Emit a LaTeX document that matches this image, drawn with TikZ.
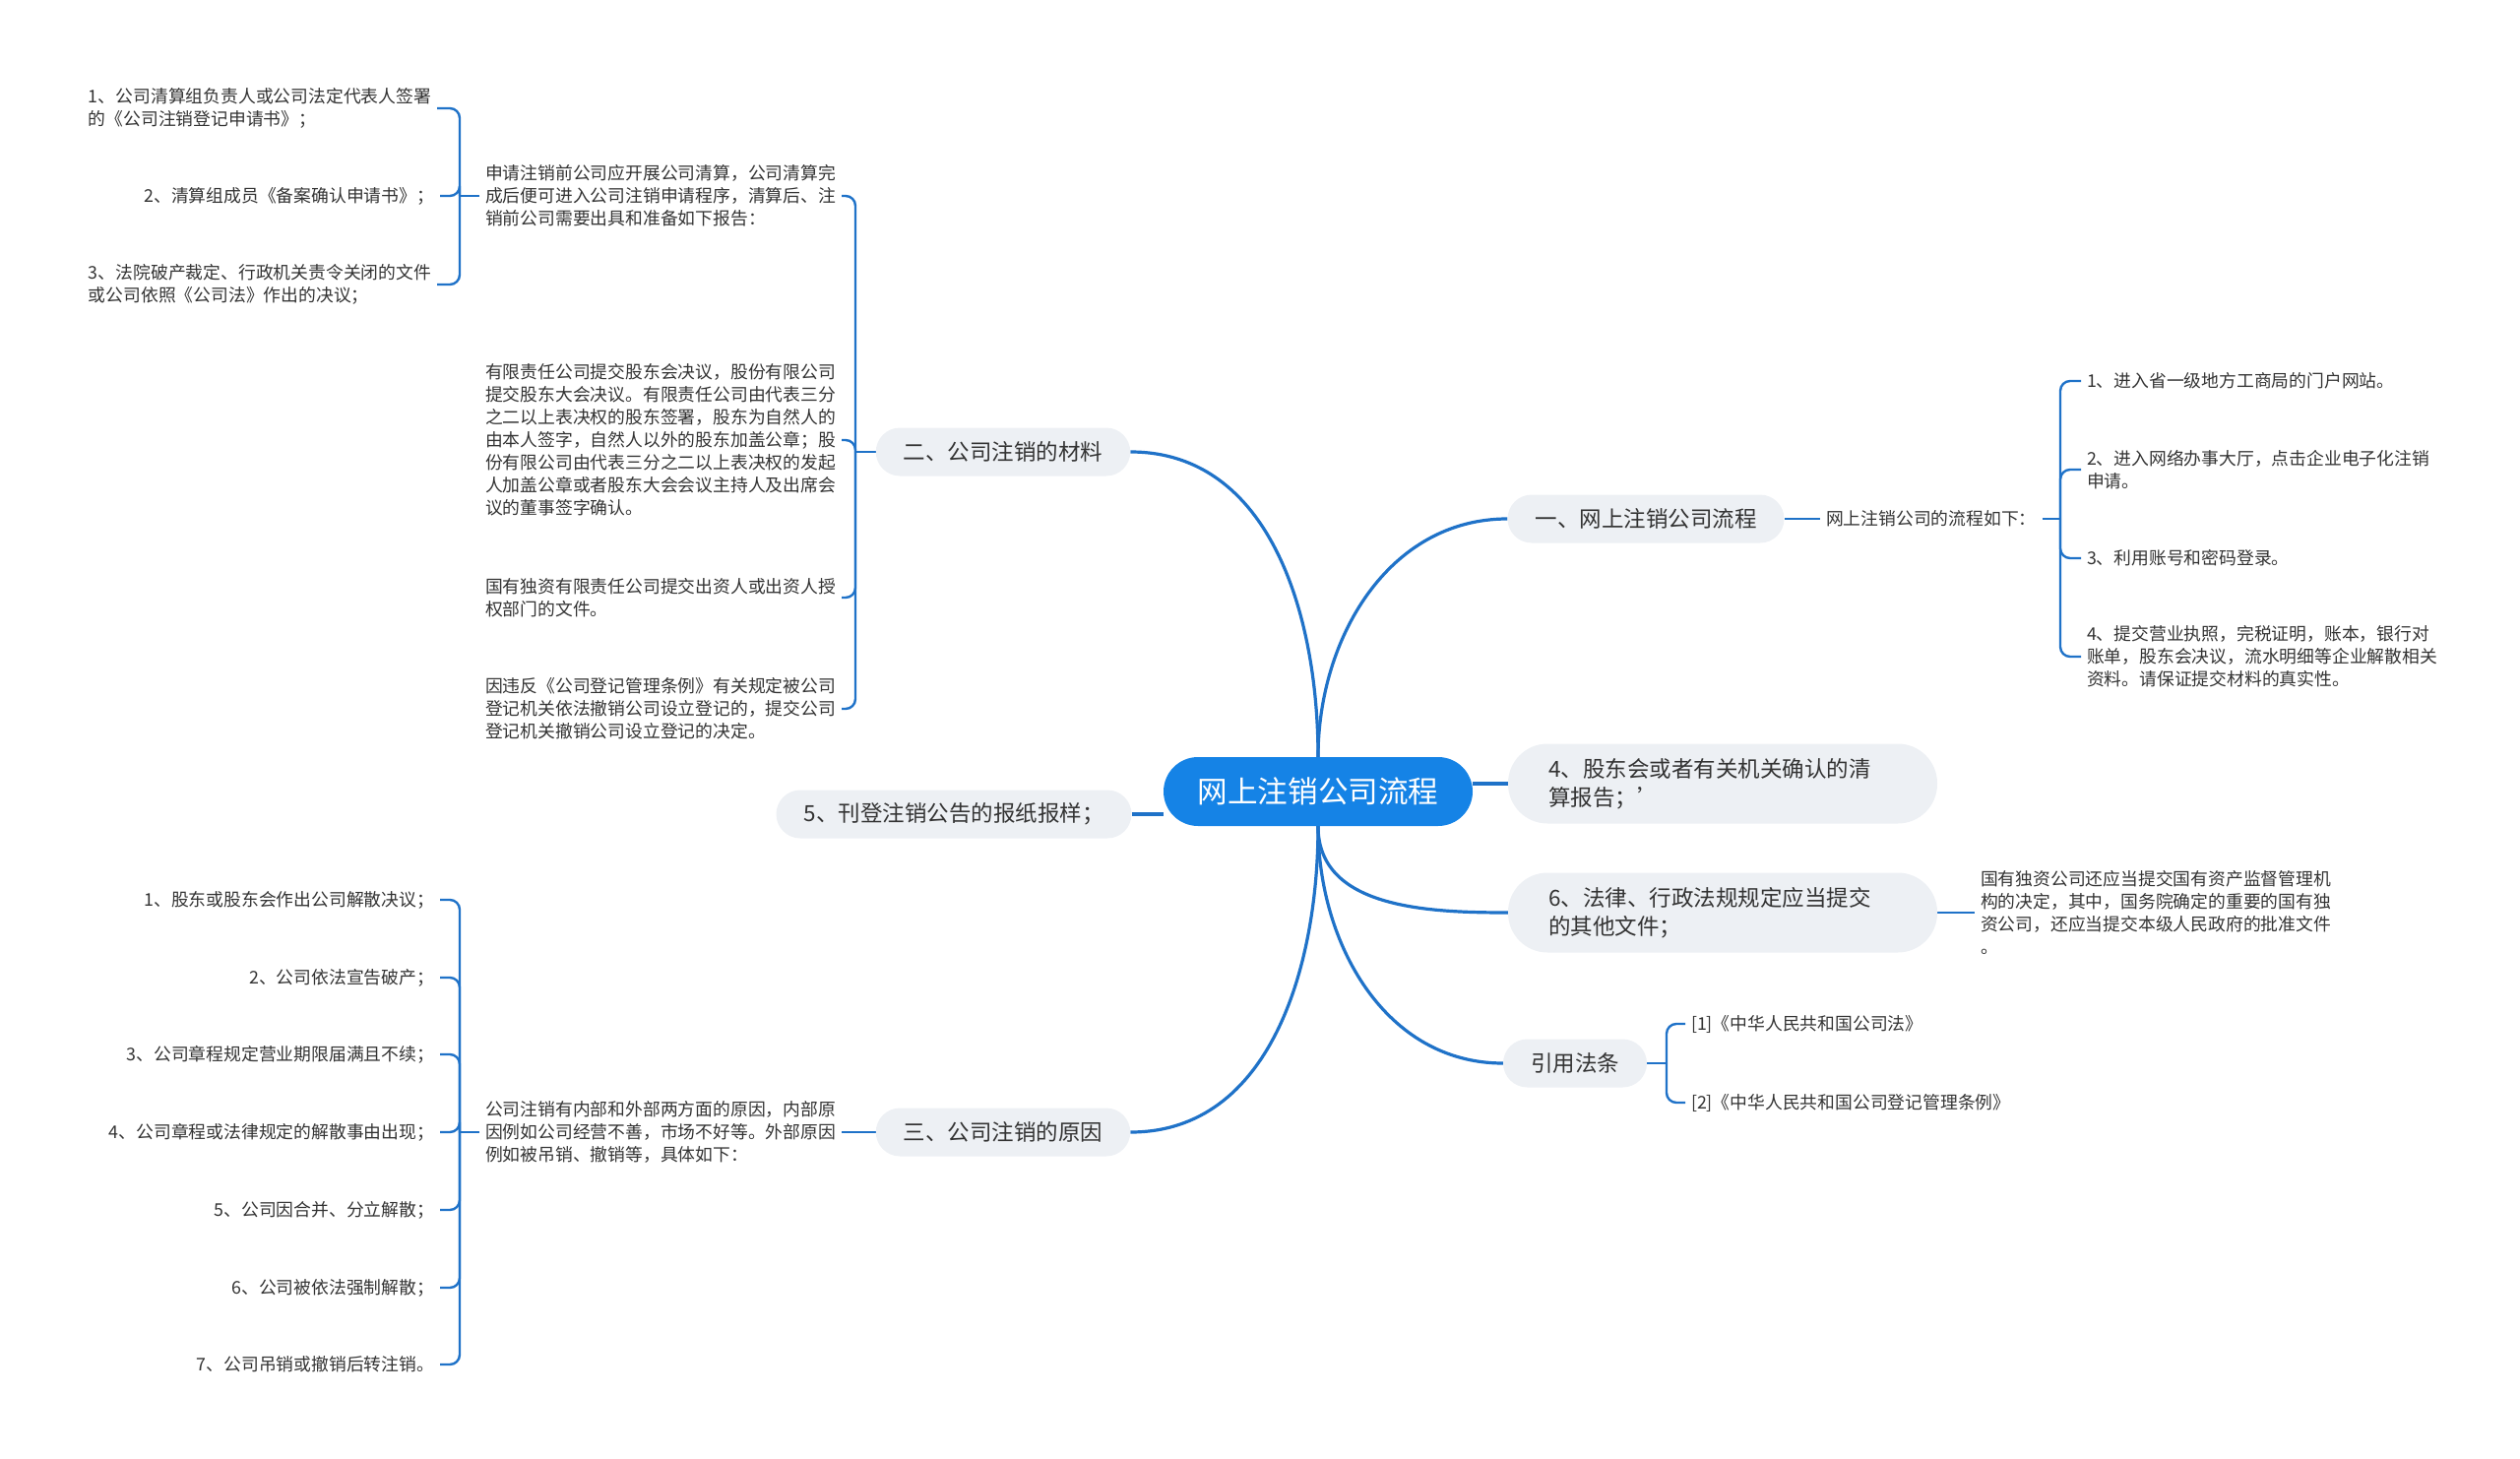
\documentclass[tikz,border=0pt]{standalone}
\usepackage{fontspec}
\setmainfont{Noto Sans CJK SC}
\usetikzlibrary{backgrounds}
\definecolor{rootblue}{HTML}{1583E6}
\definecolor{lineblue}{HTML}{1F72C8}
\definecolor{topicgray}{HTML}{EDF0F4}
\definecolor{textdark}{HTML}{333333}
\begin{document}
\begin{tikzpicture}[x=1pt,y=1pt,
  rootnode/.style={fill=rootblue,text=white,rounded corners=35pt,minimum width=314pt,minimum height=70pt,inner sep=0pt,font=\fontsize{30.6}{36}\selectfont},
  topic/.style={fill=topicgray,text=textdark,rounded corners=24.5pt,minimum height=49pt,inner xsep=28pt,inner ysep=0pt,font=\fontsize{22.5}{29}\selectfont},
  topictwo/.style={topic,rounded corners=40pt,minimum height=81pt,minimum width=436pt,text width=354pt,align=left,inner xsep=41pt},
  leaf/.style={text=textdark,inner sep=0pt,outer xsep=6pt,align=left,font=\fontsize{17.8}{23}\selectfont},
  branch/.style={draw=lineblue,line width=3.2pt},
  twig/.style={draw=lineblue,line width=2.4pt,rounded corners=10pt}]

\def\PAGEW{2560}
\def\PAGEH{1482}
	\useasboundingbox (0,0) rectangle (\PAGEW,-\PAGEH);

	\node[rootnode] (root) at (1339,-804) {网上注销公司流程};

	\node[topic] (liucheng) at (1672,-527) {一、网上注销公司流程};
	\node[topic] (cailiao) at (1019,-459) {二、公司注销的材料};
	\node[topic] (yuanyin) at (1019,-1150) {三、公司注销的原因};
	\node[topic] (baoyang) at (969,-827) {5、刊登注销公告的报纸报样；};
	\node[topictwo] (qingsuan) at (1750,-796) {4、股东会或者有关机关确认的清\\算报告；'};
	\node[topictwo] (wenjian) at (1750,-927) {6、法律、行政法规规定应当提交\\的其他文件；};
	\node[topic] (fatiao) at (1600,-1080) {引用法条};

	\node[leaf,anchor=west] (liuchengru) at (1849,-527) {网上注销公司的流程如下：};
	\node[leaf,anchor=west] (bu1) at (2114,-387) {1、进入省一级地方工商局的门户网站。};
	\node[leaf,anchor=west] (bu2) at (2114,-477) {2、进入网络办事大厅，点击企业电子化注销\\申请。};
	\node[leaf,anchor=west] (bu3) at (2114,-567) {3、利用账号和密码登录。};
	\node[leaf,anchor=west] (bu4) at (2114,-667) {4、提交营业执照，完税证明，账本，银行对\\账单，股东会决议，流水明细等企业解散相关\\资料。请保证提交材料的真实性。};
	\coordinate (liuchengk) at (2093,-527);

	\node[leaf,anchor=west] (guoyou) at (2006,-927) {国有独资公司还应当提交国有资产监督管理机\\构的决定，其中，国务院确定的重要的国有独\\资公司，还应当提交本级人民政府的批准文件\\。};

	\node[leaf,anchor=west] (fa1) at (1712,-1040) {[1]《中华人民共和国公司法》};
	\node[leaf,anchor=west] (fa2) at (1712,-1120) {[2]《中华人民共和国公司登记管理条例》};
	\coordinate (fatiaok) at (1693,-1080);

	\node[leaf,anchor=east] (qingsuanqian) at (855,-199) {申请注销前公司应开展公司清算，公司清算完\\成后便可进入公司注销申请程序，清算后、注\\销前公司需要出具和准备如下报告：};
	\node[leaf,anchor=east] (gufen) at (855,-447) {有限责任公司提交股东会决议，股份有限公司\\提交股东大会决议。有限责任公司由代表三分\\之二以上表决权的股东签署，股东为自然人的\\由本人签字，自然人以外的股东加盖公章；股\\份有限公司由代表三分之二以上表决权的发起\\人加盖公章或者股东大会会议主持人及出席会\\议的董事签字确认。};
	\node[leaf,anchor=east] (duzi) at (855,-607) {国有独资有限责任公司提交出资人或出资人授\\权部门的文件。};
	\node[leaf,anchor=east] (chexiao) at (855,-720) {因违反《公司登记管理条例》有关规定被公司\\登记机关依法撤销公司设立登记的，提交公司\\登记机关撤销公司设立登记的决定。};
	\coordinate (cailiaok) at (869,-459);

	\node[leaf,anchor=east] (qs1) at (444,-110) {1、公司清算组负责人或公司法定代表人签署\\的《公司注销登记申请书》；};
	\node[leaf,anchor=east] (qs2) at (447,-199) {2、清算组成员《备案确认申请书》；};
	\node[leaf,anchor=east] (qs3) at (444,-289) {3、法院破产裁定、行政机关责令关闭的文件\\或公司依照《公司法》作出的决议；};
	\coordinate (qingsuank) at (467,-199);

	\node[leaf,anchor=east] (yuanyinshuo) at (855,-1150) {公司注销有内部和外部两方面的原因，内部原\\因例如公司经营不善，市场不好等。外部原因\\例如被吊销、撤销等，具体如下：};
	\node[leaf,anchor=east] (yy1) at (447,-914) {1、股东或股东会作出公司解散决议；};
	\node[leaf,anchor=east] (yy2) at (447,-993) {2、公司依法宣告破产；};
	\node[leaf,anchor=east] (yy3) at (447,-1071) {3、公司章程规定营业期限届满且不续；};
	\node[leaf,anchor=east] (yy4) at (447,-1150) {4、公司章程或法律规定的解散事由出现；};
	\node[leaf,anchor=east] (yy5) at (447,-1229) {5、公司因合并、分立解散；};
	\node[leaf,anchor=east] (yy6) at (447,-1308) {6、公司被依法强制解散；};
	\node[leaf,anchor=east] (yy7) at (447,-1386) {7、公司吊销或撤销后转注销。};
	\coordinate (yuanyink) at (467,-1150);

\begin{scope}[on background layer]
	\draw[branch] (root.north) to[out=90,in=180] (liucheng.west);
	\draw[branch] (root.north) to[out=90,in=0] (cailiao.east);
	\draw[branch] (root.south) to[out=-90,in=0] (yuanyin.east);
	\draw[branch] (root.south) to[out=-90,in=180] (wenjian.west);
	\draw[branch] (root.south) to[out=-90,in=180] (fatiao.west);
	\draw[branch] (qingsuan.west) -- (qingsuan.west -| root.east);
	\draw[branch] (baoyang.east) -- (baoyang.east -| root.west);

	\draw[twig] (liucheng.east) -- (liuchengru.west);
	\draw[twig] (liuchengru.east) -- (liuchengk);
	\foreach \n in {bu1,bu2,bu3,bu4}
		\draw[twig] (liuchengk) |- (\n.west);
	\draw[twig] (wenjian.east) -- (guoyou.west);
	\draw[twig] (fatiao.east) -- (fatiaok);
	\foreach \n in {fa1,fa2}
		\draw[twig] (fatiaok) |- (\n.west);

	\draw[twig] (cailiao.west) -- (cailiaok);
	\foreach \n in {qingsuanqian,gufen,duzi,chexiao}
		\draw[twig] (cailiaok) |- (\n.east);
	\draw[twig] (qingsuanqian.west) -- (qingsuank);
	\foreach \n in {qs1,qs2,qs3}
		\draw[twig] (qingsuank) |- (\n.east);

	\draw[twig] (yuanyin.west) -- (yuanyinshuo.east);
	\draw[twig] (yuanyinshuo.west) -- (yuanyink);
	\foreach \n in {yy1,yy2,yy3,yy4,yy5,yy6,yy7}
		\draw[twig] (yuanyink) |- (\n.east);
\end{scope}

\end{tikzpicture}
\end{document}
